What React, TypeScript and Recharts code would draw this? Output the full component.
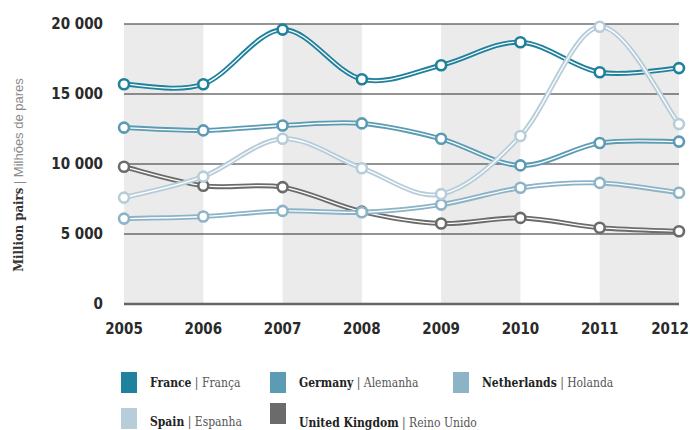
import React from 'react'
import { ComposedChart, Line, XAxis, YAxis, ReferenceArea, ReferenceLine } from 'recharts'

const years = [2005, 2006, 2007, 2008, 2009, 2010, 2011, 2012]
const france = [15700, 15700, 19600, 16050, 17050, 18700, 16550, 16850]
const germany = [12600, 12400, 12750, 12900, 11800, 9900, 11500, 11600]
const netherlands = [6100, 6250, 6650, 6550, 7100, 8300, 8650, 7950]
const spain = [7600, 9100, 11800, 9700, 7850, 12000, 19800, 12850]
const uk = [9800, 8450, 8350, 6600, 5750, 6150, 5450, 5200]
const yTicks = [0, 5000, 10000, 15000, 20000]
const bands = [[2005, 2006], [2007, 2008], [2009, 2010], [2011, 2012]]

const series = [
  { key: 'uk', name: 'United Kingdom', local: 'Reino Unido', color: '#6b6b6b', values: uk },
  { key: 'france', name: 'France', local: 'França', color: '#1f819c', values: france },
  { key: 'germany', name: 'Germany', local: 'Alemanha', color: '#5b9bb3', values: germany },
  { key: 'netherlands', name: 'Netherlands', local: 'Holanda', color: '#8db3c7', values: netherlands },
  { key: 'spain', name: 'Spain', local: 'Espanha', color: '#b8cdda', values: spain },
]

const legendOrder = ['france', 'germany', 'netherlands', 'spain', 'uk']

const data = years.map((year, i) => {
  const row: Record<string, number> = { year }
  series.forEach((s) => { row[s.key] = s.values[i] })
  return row
})

// catmull-rom style curve, passes through every point without big overshoot
const smoothCurve = (context: any) => {
  let pts: number[][] = []
  return {
    areaStart() {},
    areaEnd() {},
    lineStart() { pts = [] },
    point(x: number, y: number) { pts.push([+x, +y]) },
    lineEnd() {
      if (!pts.length) return
      context.moveTo(pts[0][0], pts[0][1])
      for (let i = 0; i < pts.length - 1; i++) {
        const p0 = pts[i - 1] || pts[i]
        const p1 = pts[i]
        const p2 = pts[i + 1]
        const p3 = pts[i + 2] || pts[i + 1]
        context.bezierCurveTo(
          p1[0] + (p2[0] - p0[0]) / 6, p1[1] + (p2[1] - p0[1]) / 6,
          p2[0] - (p3[0] - p1[0]) / 6, p2[1] - (p3[1] - p1[1]) / 6,
          p2[0], p2[1]
        )
      }
    },
  }
}

const fmt = (v: number) => (v === 0 ? '0' : v.toLocaleString('en-US').replace(',', ' '))

const tickFont = { fontFamily: '"DejaVu Sans Condensed", "DejaVu Sans"', fontWeight: 700, fontSize: 15, fill: '#2a2a2a' }

const XTick = (props: any) => {
  const { x, y, payload } = props
  const last = payload.value === years[years.length - 1]
  return (
    <text x={last ? x - 4 : x} y={y} dy={12} textAnchor="middle" {...tickFont}>
      {payload.value}
    </text>
  )
}

const YLabel = () => (
  <text x={18} y={175} transform="rotate(-90 18 175)" textAnchor="middle" dominantBaseline="central">
    <tspan fontFamily='"DejaVu Serif Condensed", "DejaVu Serif"' fontWeight={700} fontSize={13} fill="#333">Million pairs</tspan>
    <tspan fontFamily='"Liberation Sans", Arial' fontSize={13} fill="#8a8a8a"> | Milhões de pares</tspan>
  </text>
)

const legendPos: Record<string, { left: number; top: number }> = {
  france: { left: 121, top: 372 },
  germany: { left: 270, top: 372 },
  netherlands: { left: 453, top: 372 },
  spain: { left: 121, top: 408 },
  uk: { left: 270, top: 403 },
}

export default function App() {
  return (
    <div style={{ position: 'absolute', left: 0, top: 0, width: 690, height: 430, overflow: 'hidden', background: '#fff' }}>
      <ComposedChart width={690} height={430} data={data} margin={{ top: 24, right: 11, left: 0, bottom: 0 }}>
        {bands.map(([a, b]) => (
          <ReferenceArea key={a} x1={a} x2={b} y1={0} y2={20000} fill="#ebebeb" fillOpacity={1} stroke="none" />
        ))}
        {yTicks.filter((t) => t > 0).map((t) => (
          <ReferenceLine key={t} y={t} stroke="#2b2b2b" strokeWidth={1.2} />
        ))}
        <XAxis
          dataKey="year"
          type="number"
          domain={[2005, 2012]}
          ticks={years}
          tick={<XTick />}
          tickLine={false}
          tickSize={0}
          tickMargin={18}
          axisLine={{ stroke: '#666', strokeWidth: 2.5 }}
          height={126}
        />
        <YAxis
          domain={[0, 20000]}
          ticks={yTicks}
          tick={tickFont}
          tickFormatter={fmt}
          tickLine={false}
          tickSize={0}
          tickMargin={21}
          axisLine={false}
          width={124}
          label={{ content: () => <YLabel /> }}
        />
        {series.flatMap((s) => [
          <Line
            key={s.key + '-outer'}
            type={smoothCurve as any}
            dataKey={s.key}
            stroke={s.color}
            strokeWidth={5}
            dot={false}
            activeDot={false}
            isAnimationActive={false}
          />,
          <Line
            key={s.key + '-inner'}
            type={smoothCurve as any}
            dataKey={s.key}
            stroke="#ffffff"
            strokeWidth={1.3}
            dot={{ r: 5, fill: '#fff', stroke: s.color, strokeWidth: 2.6 }}
            activeDot={false}
            isAnimationActive={false}
          />,
        ])}
      </ComposedChart>
      {legendOrder.map((k) => {
        const s = series.find((x) => x.key === k)!
        const p = legendPos[k]
        return (
          <div key={k} style={{ position: 'absolute', left: p.left, top: p.top, display: 'flex', alignItems: 'center', height: 21 }}>
            <div style={{ width: 16, height: 21, background: s.color }} />
            <span style={{ marginLeft: 13, fontFamily: '"DejaVu Serif Condensed", "DejaVu Serif"', fontSize: 12, color: '#222', whiteSpace: 'nowrap', marginTop: k === 'uk' ? 18 : k === 'spain' ? 6 : 0 }}>
              <b>{s.name}</b>
              <span style={{ color: '#555' }}> | {s.local}</span>
            </span>
          </div>
        )
      })}
    </div>
  )
}
